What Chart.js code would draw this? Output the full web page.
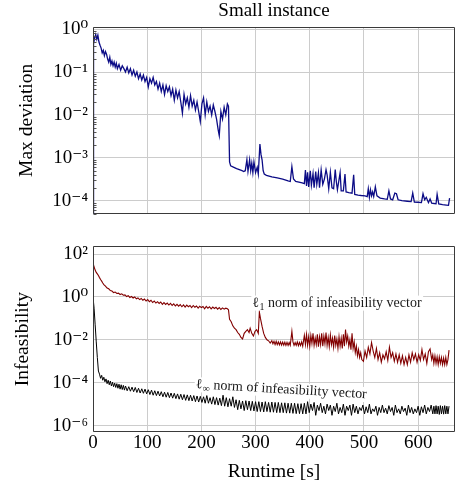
<!DOCTYPE html>
<html><head><meta charset="utf-8">
<script src="https://cdn.jsdelivr.net/npm/chart.js@4.4.1/dist/chart.umd.min.js"></script>
<style>
html,body{margin:0;padding:0;background:#fff;}
#wrap{position:relative;width:461px;height:484px;}
canvas{position:absolute;left:0;}
#c1{top:0;} #c2{top:230px;}
</style></head><body>
<div id="wrap"><canvas id="c1" width="461" height="230"></canvas><canvas id="c2" width="461" height="254"></canvas></div>
<script>
// ---------- data (runtime [s], value) ----------
const xTickValues = [0,100,200,300,400,500,600];
const devTickValues = [1e-4,1e-3,1e-2,1e-1,1];
const devTickLabels = ['10⁻⁴','10⁻³','10⁻²','10⁻¹','10⁰'];
const infTickValues = [1e-6,1e-4,1e-2,1,100];
const infTickLabels = ['10⁻⁶','10⁻⁴','10⁻²','10⁰','10²'];

const maxDeviation = [
[0,1e-5],[1,0.45],[3,0.62],[5,0.75],[7,0.58],[9,0.72],[11,0.5],[13,0.42],[15,0.36],[17,0.28],
[19,0.32],[21,0.24],[23,0.3],[25,0.26],[27,0.2],[29,0.17],[31,0.22],[33,0.15],[35,0.18],[37,0.14],
[39,0.17],[41,0.13],[43,0.16],[45,0.12],[48,0.15],[51,0.11],[54,0.14],[57,0.12],[60,0.1],[63,0.13],
[66,0.095],[69,0.12],[72,0.085],[75,0.11],[78,0.08],[81,0.1],[84,0.07],[87,0.09],[90,0.065],[93,0.085],
[96,0.06],[99,0.075],[102,0.045],[105,0.07],[108,0.055],[111,0.075],[114,0.05],[117,0.06],[120,0.04],[123,0.055],
[126,0.035],[129,0.05],[132,0.03],[135,0.048],[138,0.035],[141,0.045],[144,0.028],[147,0.04],[150,0.022],[153,0.038],
[156,0.025],[159,0.035],[162,0.02],[165,0.011],[168,0.03],[171,0.018],[174,0.025],[177,0.015],[180,0.028],[183,0.016],
[186,0.022],[189,0.013],[192,0.02],[195,0.012],[198,0.007],[201,0.018],[204,0.025],[207,0.01],[210,0.02],[213,0.012],
[216,0.016],[219,0.01],[222,0.017],[225,0.012],[228,0.008],[231,0.0045],[233,0.0033],[236,0.012],[239,0.008],[242,0.015],
[245,0.01],[248,0.018],[250,0.016],[252,8e-4],[254,6.5e-4],[260,6e-4],[265,5.6e-4],[270,5.3e-4],[275,5e-4],[278,4.8e-4],
[281,5e-4],[284,9e-4],[286,4.8e-4],[289,9e-4],[291,5e-4],[293,7.5e-4],[295,4.5e-4],[297,8e-4],[300,4.5e-4],[303,6e-4],
[305,4.2e-4],[308,2.1e-3],[310,1.2e-3],[312,9e-4],[314,5e-4],[316,4.2e-4],[320,3.9e-4],[330,3.6e-4],[340,3.4e-4],[350,3.2e-4],
[360,2.9e-4],[364,2.8e-4],[367,6.2e-4],[370,3.2e-4],[374,2.8e-4],[380,2.7e-4],[386,2.6e-4],[390,2.5e-4],[392,5.2e-4],[394,2.2e-4],
[396,4.6e-4],[398,2.1e-4],[401,5e-4],[403,2.3e-4],[406,4.3e-4],[408,2e-4],[411,4.8e-4],[413,2.4e-4],[416,4.5e-4],[418,2e-4],
[421,5.2e-4],[424,2.4e-4],[427,3.2e-4],[430,5.3e-4],[432,4e-4],[435,1.9e-4],[438,4.6e-4],[441,2e-4],[444,1.9e-4],[447,5.3e-4],
[449,2.8e-4],[451,1.8e-4],[456,4.5e-4],[458,1.7e-4],[462,1.7e-4],[465,4.2e-4],[467,1.6e-4],[472,1.55e-4],[478,1.5e-4],[481,4e-4],
[483,1.4e-4],[489,1.35e-4],[495,1.32e-4],[502,1.3e-4],[506,1.25e-4],[508,1.9e-4],[510,1.2e-4],[512,1.8e-4],[514,1.3e-4],[516,1.6e-4],
[518,1.25e-4],[521,2.1e-4],[524,1.3e-4],[530,1.15e-4],[538,1.1e-4],[543,1.08e-4],[546,1.7e-4],[549,1.1e-4],[553,1.05e-4],[557,1.5e-4],
[560,1.45e-4],[563,1.05e-4],[570,1e-4],[580,9.7e-5],[587,9.5e-5],[590,1.5e-4],[593,9.3e-5],[600,9.2e-5],[606,9e-5],[609,1.45e-4],
[612,1.05e-4],[615,1.2e-4],[619,9e-5],[622,1.1e-4],[625,8.8e-5],[630,8.6e-5],[633,8.5e-5],[635,1.4e-4],[638,8.4e-5],[645,8.1e-5],
[652,7.9e-5],[656,7.8e-5],[658,1.15e-4]
];

const l1Norm = [
[0,40],[2,25],[4,18],[6,14],[8,12],[10,10],[12,8],[14,6.5],[16,5.5],[18,4.5],
[20,3.8],[23,3.2],[26,2.6],[29,2.4],[32,2.0],[35,1.9],[38,1.6],[41,1.7],[44,1.45],[47,1.5],
[50,1.3],[53,1.4],[56,1.2],[59,1.25],[62,1.05],[65,1.15],[68,0.95],[71,1.05],[74,0.9],[77,1.0],
[80,0.82],[83,0.9],[86,0.75],[89,0.85],[92,0.7],[95,0.8],[98,0.65],[101,0.75],[104,0.6],[107,0.7],
[110,0.55],[113,0.65],[116,0.52],[119,0.6],[122,0.5],[125,0.58],[128,0.45],[131,0.55],[134,0.45],[137,0.52],
[140,0.42],[143,0.5],[146,0.4],[149,0.48],[152,0.38],[155,0.45],[158,0.37],[161,0.44],[164,0.35],[167,0.43],
[170,0.34],[173,0.42],[176,0.35],[179,0.4],[182,0.32],[185,0.4],[188,0.33],[191,0.38],[194,0.3],[197,0.37],
[200,0.32],[203,0.36],[206,0.28],[209,0.36],[212,0.3],[215,0.35],[218,0.28],[221,0.34],[224,0.29],[227,0.33],
[230,0.27],[233,0.32],[236,0.26],[239,0.31],[242,0.27],[245,0.3],[248,0.28],[250,0.25],[252,0.09],[255,0.07],
[258,0.045],[261,0.035],[264,0.03],[267,0.022],[270,0.018],[273,0.013],[276,0.011],[279,0.02],[282,0.025],[285,0.03],
[288,0.022],[290,0.035],[293,0.02],[296,0.015],[299,0.025],[302,0.03],[305,0.02],[307,0.2],[309,0.1],[312,0.042],
[315,0.02],[318,0.013],[321,0.01],[324,0.009],[327,0.007],[330,0.009],[332,0.0065],[334,0.0085],[336,0.006],[338,0.0085],
[340,0.006],[342,0.008],[344,0.0058],[346,0.008],[348,0.0057],[350,0.0078],[352,0.0056],[354,0.0077],[356,0.0055],[358,0.0076],
[360,0.0055],[362,0.0075],[364,0.0056],[367,0.025],[369,0.008],[371,0.0055],[373,0.0075],[375,0.0055],[377,0.008],[379,0.0053],
[381,0.0075],[383,0.0054],[385,0.008],[387,0.005],[390,0.016],[392,0.006],[394,0.018],[396,0.0055],[398,0.014],[400,0.005],
[402,0.016],[404,0.0068],[406,0.02],[408,0.0055],[410,0.012],[412,0.006],[414,0.018],[416,0.0048],[418,0.014],[420,0.006],
[422,0.02],[424,0.005],[426,0.015],[428,0.0065],[430,0.022],[432,0.0055],[434,0.013],[436,0.0048],[438,0.017],[440,0.006],
[442,0.012],[444,0.0045],[446,0.016],[448,0.0055],[450,0.011],[452,0.004],[454,0.014],[456,0.005],[458,0.012],[460,0.004],
[462,0.018],[464,0.005],[466,0.03],[468,0.008],[470,0.015],[472,0.005],[474,0.01],[476,0.0035],[478,0.02],[480,0.004],
[482,0.008],[484,0.0025],[486,0.005],[488,0.0018],[490,0.0035],[492,0.0015],[494,0.0025],[496,0.0012],[499,0.001],[502,0.003],
[505,0.0015],[508,0.0045],[511,0.0022],[514,0.0075],[517,0.003],[520,0.0015],[523,0.004],[526,0.0012],[529,0.0025],[532,0.0009],
[535,0.002],[538,0.0013],[541,0.0028],[544,0.0011],[547,0.0045],[550,0.0015],[553,0.0025],[556,0.001],[559,0.0022],[562,0.0009],
[565,0.002],[568,0.0008],[571,0.0018],[574,0.0007],[577,0.0015],[580,0.0007],[583,0.002],[586,0.0009],[589,0.0025],[592,0.0012],
[595,0.0022],[598,0.0009],[601,0.002],[604,0.0011],[607,0.0035],[610,0.0012],[613,0.0022],[616,0.0008],[619,0.0028],[622,0.0038],
[625,0.0012],[627,0.002],[629,0.0008],[631,0.0018],[633,0.0008],[635,0.0016],[637,0.0007],[639,0.0016],[641,0.0008],[643,0.0015],
[645,0.0007],[647,0.0014],[649,0.0007],[651,0.0015],[653,0.0007],[655,0.0012],[657,0.0033]
];

const linfNorm = [
[0,1.0],[2,0.3],[4,0.05],[6,0.008],[8,0.0015],[10,3.5e-4],[12,2.5e-4],[14,1.6e-4],[16,2.2e-4],[18,1.3e-4],
[20,1.8e-4],[22,1.1e-4],[24,1.5e-4],[26,9e-5],[28,1.3e-4],[30,8e-5],[32,1.2e-4],[34,7e-5],[36,1.05e-4],[38,6.5e-5],
[40,9.5e-5],[42,6e-5],[44,9e-5],[46,5.5e-5],[48,8.5e-5],[50,5e-5],[52,8e-5],[54,4.8e-5],[56,7.5e-5],[58,4.5e-5],
[60,7e-5],[63,4.2e-5],[66,6.5e-5],[69,4e-5],[72,6.2e-5],[75,3.8e-5],[78,6e-5],[81,3.5e-5],[84,5.5e-5],[87,3.3e-5],
[90,5.2e-5],[93,3.2e-5],[96,5e-5],[99,3e-5],[102,4.7e-5],[105,2.8e-5],[108,4.5e-5],[111,2.6e-5],[114,4.2e-5],[117,2.5e-5],
[120,4e-5],[123,2.4e-5],[126,3.8e-5],[129,2.2e-5],[132,3.6e-5],[135,2.1e-5],[138,3.5e-5],[141,2e-5],[144,3.3e-5],[147,1.9e-5],
[150,3.2e-5],[153,1.8e-5],[156,3e-5],[159,1.7e-5],[162,2.9e-5],[165,1.6e-5],[168,2.8e-5],[171,1.5e-5],[174,2.7e-5],[177,1.45e-5],
[180,2.6e-5],[183,1.4e-5],[186,2.5e-5],[189,1.3e-5],[192,2.4e-5],[195,1.25e-5],[198,2.3e-5],[201,1.2e-5],[204,2.2e-5],[207,1.1e-5],
[210,2.5e-5],[213,1.1e-5],[216,2e-5],[219,1e-5],[222,2.2e-5],[225,9.5e-6],[228,2e-5],[231,9e-6],[234,1.9e-5],[237,8.5e-6],
[240,2.6e-5],[243,8e-6],[246,2e-5],[249,7.5e-6],[252,1.8e-5],[255,8e-6],[258,2.2e-5],[261,7e-6],[264,1.6e-5],[267,5.5e-6],
[270,1.5e-5],[273,6e-6],[276,1.4e-5],[279,5e-6],[282,1.45e-5],[285,5.5e-6],[288,1.4e-5],[291,5e-6],[294,1.35e-5],[297,4.8e-6],
[300,1.3e-5],[303,4.5e-6],[306,1.3e-5],[309,4.5e-6],[312,1.25e-5],[315,4.3e-6],[318,1.3e-5],[321,4.5e-6],[324,1.2e-5],[327,4.2e-6],
[330,1.25e-5],[333,4.2e-6],[336,1.2e-5],[339,4e-6],[342,1.2e-5],[345,4e-6],[348,1.15e-5],[351,4e-6],[354,1.15e-5],[357,3.8e-6],
[360,1.1e-5],[363,3.8e-6],[366,1.1e-5],[369,3.7e-6],[372,1.1e-5],[375,3.6e-6],[378,1.05e-5],[381,3.6e-6],[384,1.05e-5],[387,3.5e-6],
[390,1.1e-5],[393,3.5e-6],[396,1.3e-5],[399,4e-6],[402,1e-5],[405,5e-6],[408,1.2e-5],[411,3e-6],[414,9e-6],[417,5e-6],
[420,1.1e-5],[423,4e-6],[426,8e-6],[429,3.5e-6],[432,1e-5],[435,5e-6],[438,9e-6],[441,3e-6],[444,8e-6],[447,4.5e-6],
[450,1.1e-5],[453,3.5e-6],[456,7e-6],[459,4e-6],[462,1e-5],[465,3e-6],[468,8e-6],[471,5e-6],[474,9e-6],[477,3e-6],
[480,1e-5],[483,4e-6],[486,8e-6],[489,3.5e-6],[492,7e-6],[495,5e-6],[498,9e-6],[501,3.5e-6],[504,7.5e-6],[507,4e-6],
[510,1e-5],[513,3.5e-6],[516,6e-6],[519,4.5e-6],[522,8e-6],[525,3e-6],[528,7e-6],[531,4e-6],[534,9e-6],[537,4e-6],
[540,6.5e-6],[543,3.5e-6],[546,8.5e-6],[549,4.5e-6],[552,7e-6],[555,3e-6],[558,9e-6],[561,4e-6],[564,6e-6],[567,3.5e-6],
[570,8e-6],[573,4.5e-6],[576,6.5e-6],[579,3e-6],[582,9e-6],[585,4e-6],[588,7e-6],[591,3.5e-6],[594,6e-6],[597,4e-6],
[600,8e-6],[603,3e-6],[606,7.5e-6],[609,4e-6],[612,9e-6],[615,3.5e-6],[618,7e-6],[621,4.5e-6],[624,9e-6],[627,3.5e-6],
[629,8e-6],[631,3.5e-6],[633,8.5e-6],[635,3.5e-6],[637,8e-6],[639,3.3e-6],[641,8.5e-6],[643,3.5e-6],[645,8e-6],[647,3.4e-6],
[649,8.5e-6],[651,3.5e-6],[653,8e-6],[655,3.5e-6],[657,8e-6]
];

// annotation anchors in data units (left end of text baseline)
const normLabels = [
  {sub:'1', x:294, y:0.355, angle:0},
  {sub:'∞', x:189, y:5.6e-5, angle:3.4}
];

// ---------- styling ----------
const SERIF = '"Liberation Serif", "DejaVu Serif", serif';
const GRID = '#cccccc';
const toPts = arr => arr.map(p => ({x:p[0], y:p[1]}));

const framePlugin = {
  id:'frame',
  afterDatasetsDraw(chart, args, opts){
    const {ctx, chartArea:a} = chart;
    ctx.save();
    ctx.strokeStyle = '#3a3a3a'; ctx.lineWidth = 1;
    const L = Math.round(a.left)+0.5, T = Math.round(a.top)+0.5;
    const R = Math.round(a.right)-0.5, B = Math.round(a.bottom)-0.5;
    if (opts.minor) {
      const ys = chart.scales.y;
      ctx.strokeStyle = '#555';
      for (let d=-6; d<=2; d++) for (let k=2; k<=9; k++) {
        const v = k*Math.pow(10,d);
        if (v < ys.min || v > ys.max) continue;
        const p = Math.round(ys.getPixelForValue(v))+0.5;
        ctx.beginPath(); ctx.moveTo(L,p); ctx.lineTo(L+3,p); ctx.stroke();
      }
      ctx.strokeStyle = '#3a3a3a';
    }
    ctx.beginPath();
    ctx.moveTo(L,T); ctx.lineTo(R,T); ctx.lineTo(R,B); ctx.lineTo(L,B); ctx.closePath();
    ctx.stroke();
    ctx.restore();
  }
};

const labelPlugin = {
  id:'normlabels',
  afterDatasetsDraw(chart){
    const {ctx} = chart; const xs = chart.scales.x, ys = chart.scales.y;
    for (const lab of normLabels) {
      const px = xs.getPixelForValue(lab.x), py = ys.getPixelForValue(lab.y);
      ctx.save();
      ctx.translate(px, py); ctx.rotate(lab.angle*Math.PI/180);
      ctx.textAlign = 'left'; ctx.textBaseline = 'alphabetic';
      ctx.font = '14px ' + SERIF;
      const wl = ctx.measureText('ℓ').width;
      ctx.font = '10px ' + SERIF;
      const ws = ctx.measureText(lab.sub).width;
      ctx.font = '14px ' + SERIF;
      const rest = ' norm of infeasibility vector';
      const wr = ctx.measureText(rest).width;
      ctx.fillStyle = '#fff';
      ctx.fillRect(-1, -11, wl+ws+wr+3, 15);
      ctx.fillStyle = '#1a1a1a';
      ctx.fillText('ℓ', 0, 0);
      ctx.font = '10px ' + SERIF;
      ctx.fillText(lab.sub, wl+0.5, 3);
      ctx.font = '14px ' + SERIF;
      ctx.fillText(rest, wl+ws+0.5, 0);
      ctx.restore();
    }
  }
};

function yAxis(min, max, tickVals, tickLabels, title, titlePad){
  return {
    type:'logarithmic', min:min, max:max,
    afterBuildTicks: s => { s.ticks = tickVals.map(v => ({value:v})); },
    afterFit: s => { s.width = 93; },
    ticks:{ autoSkip:false, padding:5, color:'#000', font:{family:SERIF, size:19},
            callback:(v,i) => tickLabels[i] },
    grid:{ color:GRID, lineWidth:1, drawTicks:false },
    border:{ display:false },
    title:{ display:true, text:title, color:'#000', font:{family:SERIF, size:19.5}, padding:{top:titlePad, bottom:0} }
  };
}

function xAxis(showLabels){
  return {
    type:'linear', min:0, max:668,
    afterBuildTicks: s => { s.ticks = xTickValues.map(v => ({value:v})); },
    afterFit: s => { s.height = showLabels ? 52 : 9; },
    ticks:{ display:showLabels, autoSkip:false, padding:0, color:'#000', font:{family:SERIF, size:19} },
    grid:{ color:GRID, lineWidth:1, drawTicks:false },
    border:{ display:false },
    title:{ display:showLabels, text:'Runtime [s]', color:'#000', font:{family:SERIF, size:19.5}, padding:{top:0, bottom:0} }
  };
}

// top axis carrying the panel title, centred over the plot area
const titleAxis = {
  type:'linear', position:'top', min:0, max:668,
  afterFit: s => { s.height = 27; },
  ticks:{ display:false },
  grid:{ display:false, drawTicks:false },
  border:{ display:false },
  title:{ display:true, text:'Small instance', color:'#000', font:{family:SERIF, size:19}, padding:{top:0, bottom:0} }
};

Chart.defaults.font.family = SERIF;

new Chart(document.getElementById('c1'), {
  type:'line',
  data:{ datasets:[{ data:toPts(maxDeviation), borderColor:'#0c0c86', borderWidth:1.3, pointRadius:0, tension:0 }] },
  options:{
    responsive:false, animation:false,
    layout:{ padding:{left:0, right:6, top:0, bottom:0} },
    plugins:{
      legend:{display:false}, tooltip:{enabled:false},
      frame:{ minor:true }
    },
    scales:{ x:xAxis(false), xTop:titleAxis, y:yAxis(5.0e-5, 1.12, devTickValues, devTickLabels, 'Max deviation', 15) }
  },
  plugins:[framePlugin]
});

new Chart(document.getElementById('c2'), {
  type:'line',
  data:{ datasets:[
    { data:toPts(l1Norm), borderColor:'#820000', borderWidth:1.1, pointRadius:0, tension:0 },
    { data:toPts(linfNorm), borderColor:'#000000', borderWidth:1, pointRadius:0, tension:0 }
  ] },
  options:{
    responsive:false, animation:false,
    layout:{ padding:{left:0, right:6, top:8, bottom:0} },
    plugins:{ legend:{display:false}, tooltip:{enabled:false}, frame:{ minor:false } },
    scales:{ x:xAxis(true), y:yAxis(5.0e-7, 229, infTickValues, infTickLabels, 'Infeasibility', 11) }
  },
  plugins:[framePlugin, labelPlugin]
});
</script>
</body></html>
